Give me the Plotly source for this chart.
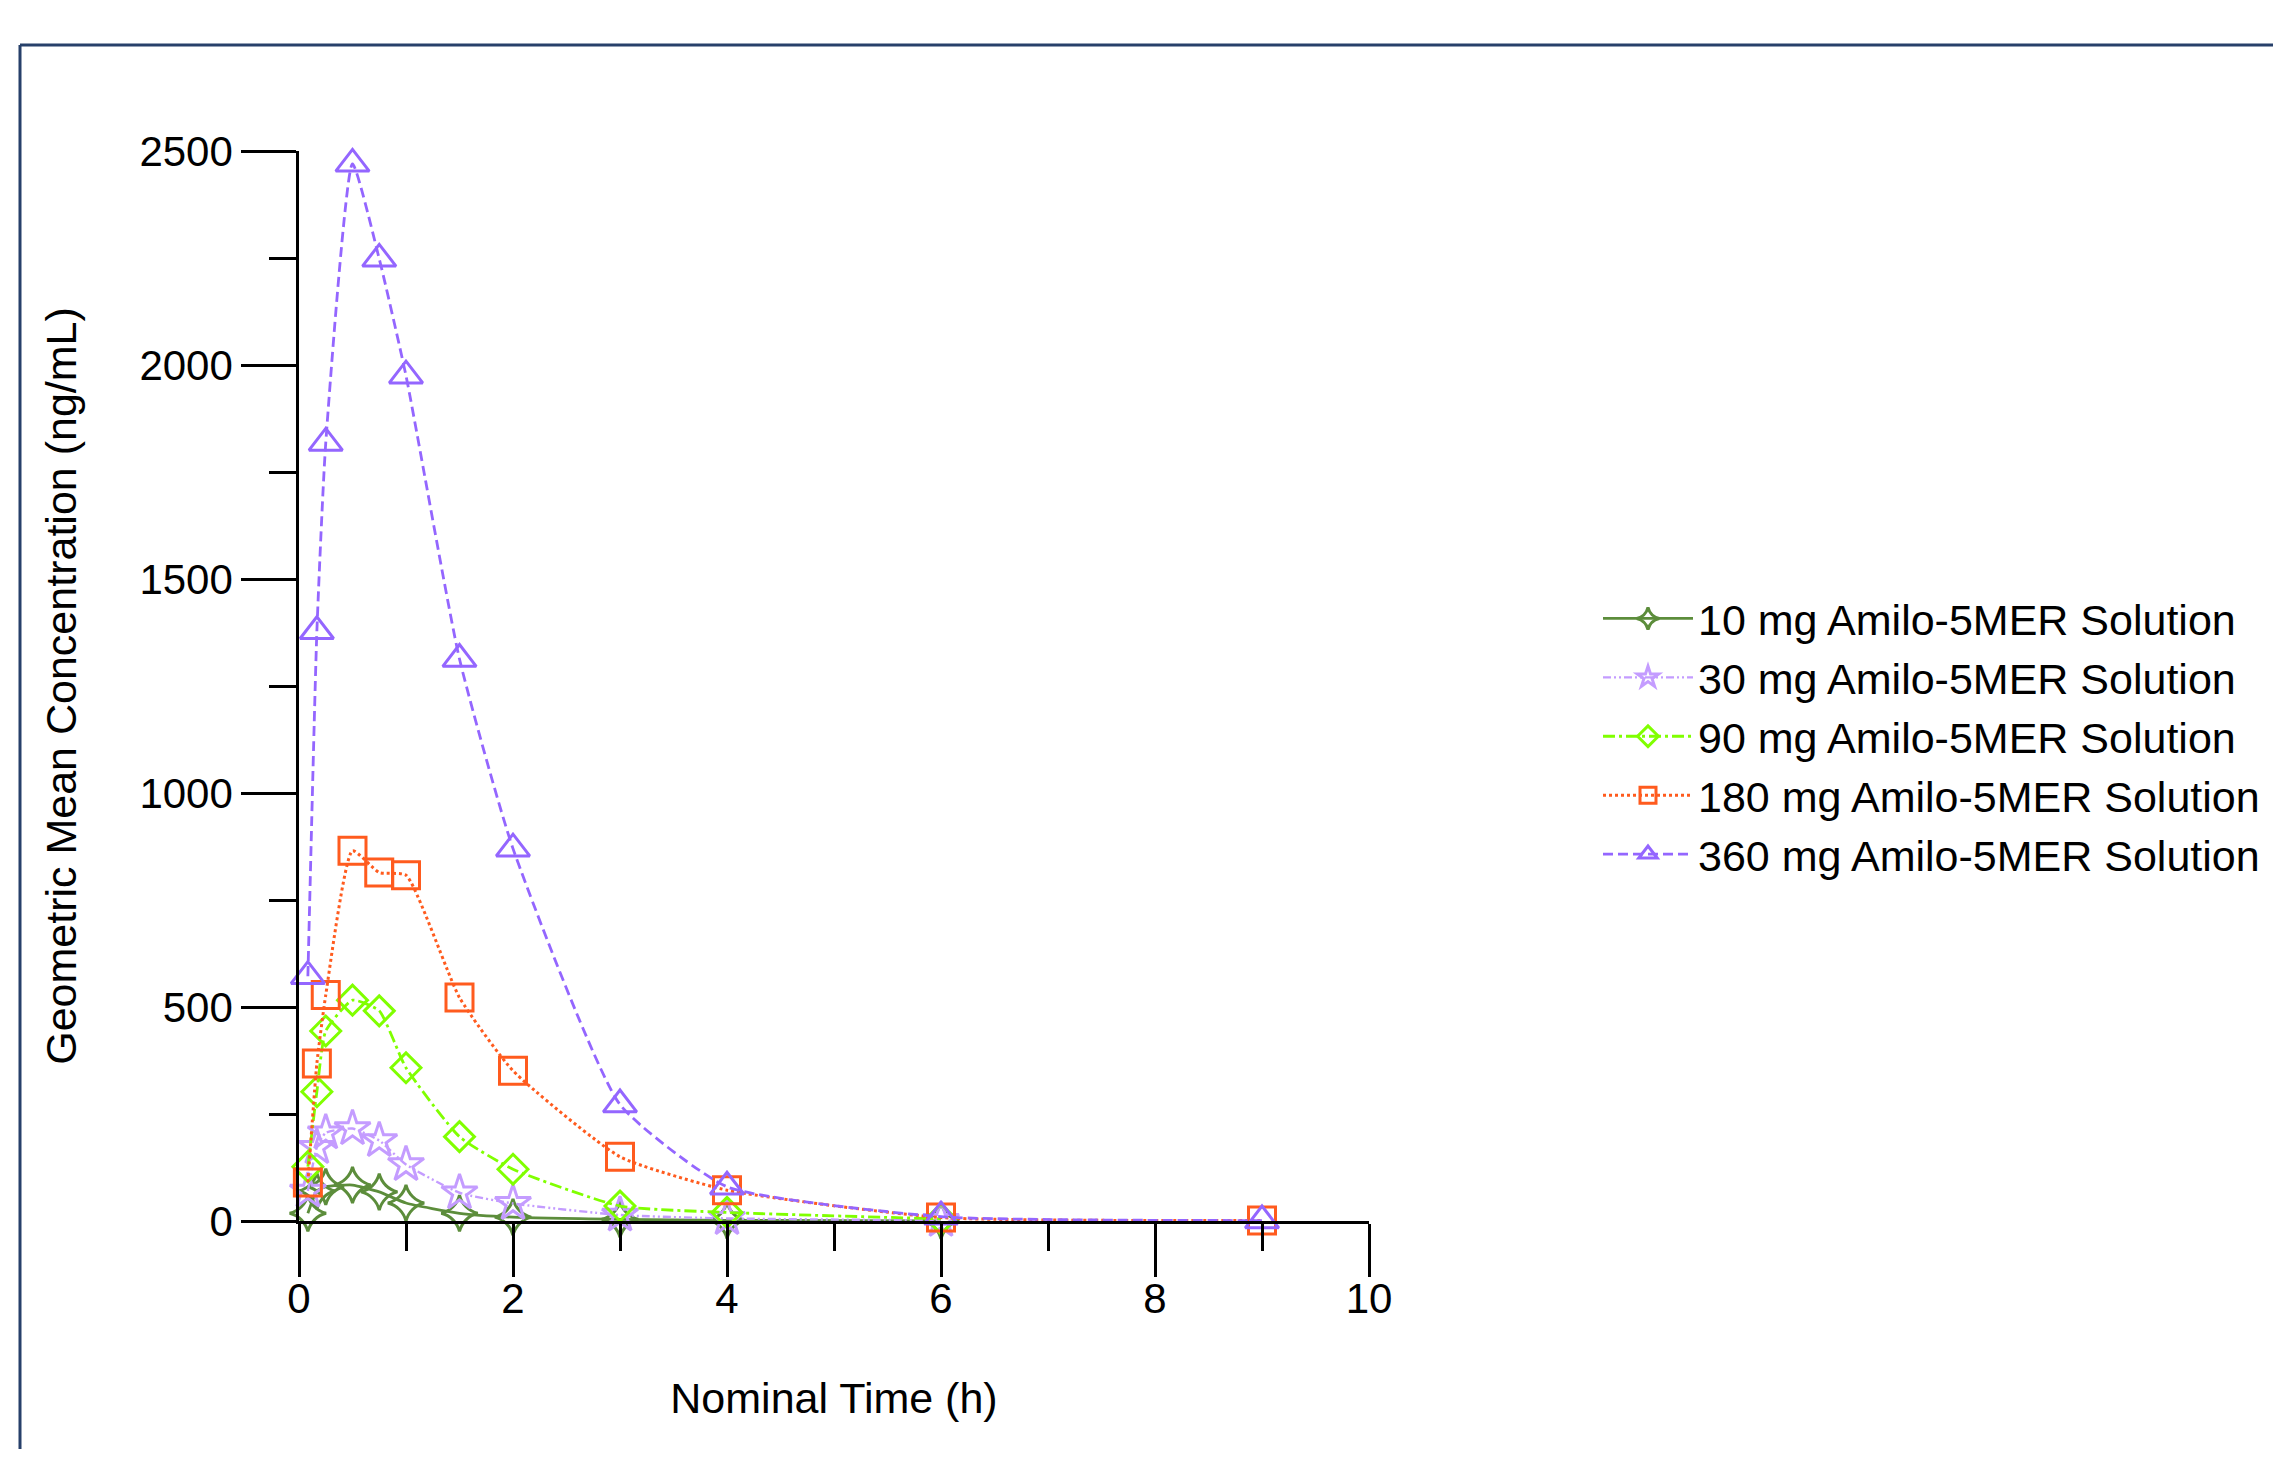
import plotly.graph_objects as go

# ---- data ----
times = [0.083, 0.167, 0.25, 0.5, 0.75, 1, 1.5, 2, 3, 4, 6, 9]

names = [
    "10 mg Amilo-5MER Solution",
    "30 mg Amilo-5MER Solution",
    "90 mg Amilo-5MER Solution",
    "180 mg Amilo-5MER Solution",
    "360 mg Amilo-5MER Solution",
]

conc_10mg = [18, 70, 80, 84, 68, 42, 18, 9, 4, 1.5, 0.5]
conc_30mg = [70, 172, 206, 216, 188, 132, 66, 41, 14, 6, 1.5]
conc_90mg = [127, 302, 444, 516, 491, 358, 197, 121, 35, 20, 5]
conc_180mg = [90, 368, 528, 865, 814, 808, 522, 351, 150, 72, 8, 1]
conc_360mg = [572, 1378, 1818, 2470, 2248, 1975, 1313, 870, 272, 80, 10, 1]

x_ticks = [0, 2, 4, 6, 8, 10]
y_ticks = [0, 500, 1000, 1500, 2000, 2500]

# ---- styles ----
series = [conc_10mg, conc_30mg, conc_90mg, conc_180mg, conc_360mg]
colors = ["#5C8D3B", "#C49CFF", "#80FF00", "#FF5B1E", "#9466FF"]
dashes = ["solid", "8px,3px,2px,3px,2px,3px", "12px,4px,3px,4px", "dot", "10px,5px"]
symbols = ["star-diamond-open", "star-open", "diamond-open", "square-open", "triangle-up-open"]
sizes = [26, 27, 23, 27, 29]
widths = [2.8, 2.4, 2.8, 3, 2.8]

FONT = "Liberation Sans, Arial, sans-serif"

fig = go.Figure()
for name, vals, c, d, s, sz, w in zip(names, series, colors, dashes, symbols, sizes, widths):
    fig.add_trace(go.Scatter(
        x=times[:len(vals)], y=vals, name=name, mode="lines+markers",
        line=dict(color=c, dash=d, width=w, shape="spline", smoothing=0.5),
        marker=dict(symbol=s, size=sz, color=c, line=dict(color=c, width=3)),
        cliponaxis=False,
    ))

# page has an 8px body margin; figure coordinates are offset by it
OFF = 8
W, H = 2281 - 2 * OFF, 1457 - 2 * OFF
L, R, T, B = 299 - OFF, 1369 - OFF, 151 - OFF, 1221 - OFF
pw, ph = R - L, B - T

def px(xp):
    return (xp - OFF - L) / pw

def py(yp):
    return (B - (yp - OFF)) / ph

# outer frame (top and left edges visible)
frame_col = "#27406A"
fig.add_shape(type="line", xref="paper", yref="paper",
              x0=px(20), x1=px(2300), y0=py(45), y1=py(45),
              line=dict(color=frame_col, width=3))
fig.add_shape(type="line", xref="paper", yref="paper",
              x0=px(20), x1=px(20), y0=py(45), y1=py(1480),
              line=dict(color=frame_col, width=3))

fig.update_layout(
    width=W, height=H,
    margin=dict(l=L, r=W - R, t=T, b=H - B, pad=0, autoexpand=False),
    paper_bgcolor="white", plot_bgcolor="white",
    font=dict(family=FONT, size=43, color="black"),
    showlegend=True,
    legend=dict(
        x=px(1598), y=py(584), xanchor="left", yanchor="top",
        font=dict(family=FONT, size=43, color="black"),
        bgcolor="rgba(0,0,0,0)", borderwidth=0,
        itemwidth=90, tracegroupgap=0,
    ),
    xaxis=dict(
        range=[0, 10], tickvals=x_ticks, ticktext=[str(v) for v in x_ticks],
        showgrid=False, zeroline=False,
        showline=True, linecolor="black", linewidth=2.5,
        ticks="outside", ticklen=53, tickwidth=2.5, tickcolor="black",
        minor=dict(dtick=1, tick0=0, ticks="outside", ticklen=27, tickwidth=2.5, tickcolor="black", showgrid=False),
        tickfont=dict(family=FONT, size=42),
        ticklabelstandoff=-14,
        title=dict(text="Nominal Time (h)", font=dict(family=FONT, size=43), standoff=62),
    ),
    yaxis=dict(
        range=[0, 2500], tickvals=y_ticks, ticktext=[str(v) for v in y_ticks],
        showgrid=False, zeroline=False,
        showline=True, linecolor="black", linewidth=2.5,
        ticks="outside", ticklen=55, tickwidth=2.5, tickcolor="black",
        minor=dict(dtick=250, tick0=0, ticks="outside", ticklen=27, tickwidth=2.5, tickcolor="black", showgrid=False),
        tickfont=dict(family=FONT, size=42),
        title=dict(text="Geometric Mean Concentration (ng/mL)", font=dict(family=FONT, size=43), standoff=50),
    ),
)

fig.write_html("out.html")
